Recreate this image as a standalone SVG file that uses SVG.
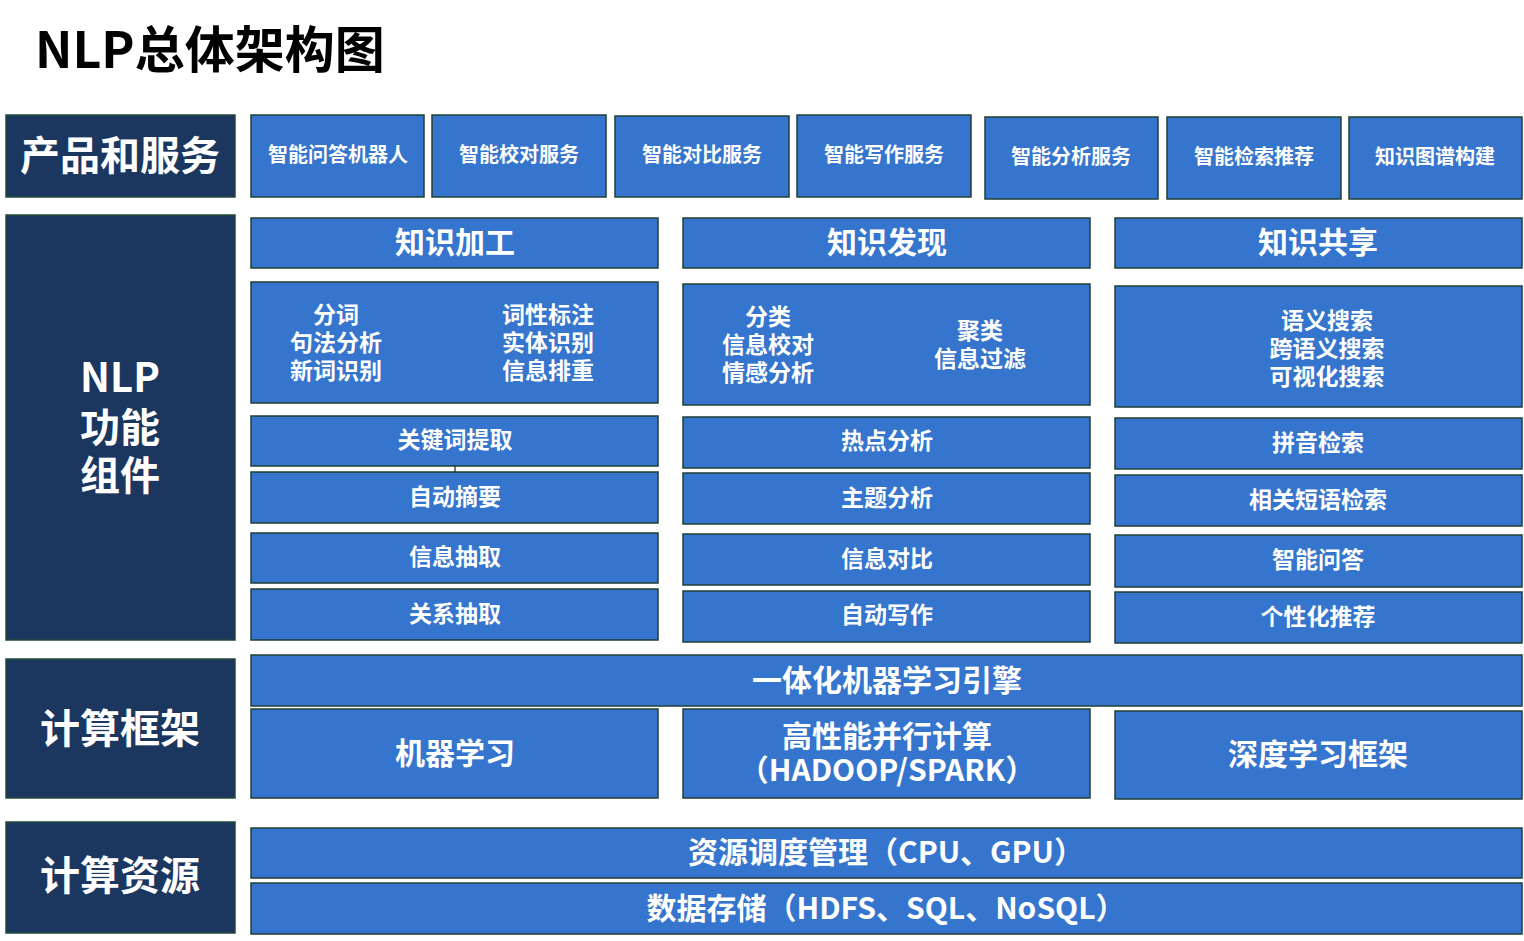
<svg xmlns="http://www.w3.org/2000/svg" width="1524" height="941" viewBox="0 0 1524 941">
<style>
.bg{fill:#ffffff}
.dark{fill:#1b375f;stroke:#234a3a;stroke-width:1.5}
.blue{fill:#3575cd;stroke:#1f3f33;stroke-width:1.5}
text{font-family:"Noto Sans CJK SC","Microsoft YaHei",sans-serif;font-weight:bold;fill:#ffffff;text-anchor:middle;dominant-baseline:central}
.title{fill:#000000;text-anchor:start;font-size:50px}
.l40{font-size:40px}
.s19{font-size:20px}
.s29{font-size:30px}
.s22{font-size:23px}
.s30{font-size:30px}
.conn{stroke:#222222;stroke-width:1.2;fill:none}
</style>
<rect class="bg" x="0" y="0" width="1524" height="941"/>
<text class="title" x="35" y="46">NLP总体架构图</text>

<g id="row-products">
<g id="label-products"><rect class="dark" x="6" y="115" width="229" height="82"/><text class="l40" x="120" y="153">产品和服务</text></g>
<g id="p1"><rect class="blue" x="251" y="115" width="173" height="82"/><text class="s19" x="338" y="153">智能问答机器人</text></g>
<g id="p2"><rect class="blue" x="432" y="115" width="174" height="82"/><text class="s19" x="519" y="153">智能校对服务</text></g>
<g id="p3"><rect class="blue" x="615" y="116" width="174" height="81"/><text class="s19" x="702" y="153">智能对比服务</text></g>
<g id="p4"><rect class="blue" x="797" y="115" width="174" height="82"/><text class="s19" x="884" y="153">智能写作服务</text></g>
<g id="p5"><rect class="blue" x="985" y="117" width="173" height="82"/><text class="s19" x="1071" y="155">智能分析服务</text></g>
<g id="p6"><rect class="blue" x="1167" y="117" width="174" height="82"/><text class="s19" x="1254" y="155">智能检索推荐</text></g>
<g id="p7"><rect class="blue" x="1349" y="117" width="173" height="82"/><text class="s19" x="1435" y="155">知识图谱构建</text></g>
</g>

<g id="row-nlp">
<g id="label-nlp"><rect class="dark" x="6" y="215" width="229" height="425"/>
<text class="l40" x="120" y="375"><tspan x="120" y="375">NLP</tspan><tspan x="120" y="425">功能</tspan><tspan x="120" y="473">组件</tspan></text></g>

<g id="h1"><rect class="blue" x="251" y="218" width="407" height="50"/><text class="s29" x="455" y="240">知识加工</text></g>
<g id="h2"><rect class="blue" x="683" y="218" width="407" height="50"/><text class="s29" x="887" y="240">知识发现</text></g>
<g id="h3"><rect class="blue" x="1115" y="218" width="407" height="50"/><text class="s29" x="1318" y="240">知识共享</text></g>

<g id="b1"><rect class="blue" x="251" y="282" width="407" height="121"/>
<text class="s22" x="336" y="313"><tspan x="336" y="313">分词</tspan><tspan x="336" y="341">句法分析</tspan><tspan x="336" y="369">新词识别</tspan></text>
<text class="s22" x="548" y="313"><tspan x="548" y="313">词性标注</tspan><tspan x="548" y="341">实体识别</tspan><tspan x="548" y="369">信息排重</tspan></text></g>
<g id="b2"><rect class="blue" x="683" y="284" width="407" height="121"/>
<text class="s22" x="768" y="315"><tspan x="768" y="315">分类</tspan><tspan x="768" y="343">信息校对</tspan><tspan x="768" y="371">情感分析</tspan></text>
<text class="s22" x="980" y="329"><tspan x="980" y="329">聚类</tspan><tspan x="980" y="357">信息过滤</tspan></text></g>
<g id="b3"><rect class="blue" x="1115" y="286" width="407" height="121"/>
<text class="s22" x="1327" y="319"><tspan x="1327" y="319">语义搜索</tspan><tspan x="1327" y="347">跨语义搜索</tspan><tspan x="1327" y="375">可视化搜索</tspan></text></g>

<g id="c1a"><rect class="blue" x="251" y="416" width="407" height="50"/><text class="s22" x="455" y="438">关键词提取</text></g>
<g id="c1b"><rect class="blue" x="251" y="472" width="407" height="51"/><text class="s22" x="455" y="495">自动摘要</text></g>
<g id="c1c"><rect class="blue" x="251" y="533" width="407" height="50"/><text class="s22" x="455" y="555">信息抽取</text></g>
<g id="c1d"><rect class="blue" x="251" y="589" width="407" height="51"/><text class="s22" x="455" y="612">关系抽取</text></g>

<g id="c2a"><rect class="blue" x="683" y="417" width="407" height="51"/><text class="s22" x="887" y="439">热点分析</text></g>
<g id="c2b"><rect class="blue" x="683" y="473" width="407" height="51"/><text class="s22" x="887" y="496">主题分析</text></g>
<g id="c2c"><rect class="blue" x="683" y="534" width="407" height="51"/><text class="s22" x="887" y="557">信息对比</text></g>
<g id="c2d"><rect class="blue" x="683" y="591" width="407" height="51"/><text class="s22" x="887" y="613">自动写作</text></g>

<g id="c3a"><rect class="blue" x="1115" y="418" width="407" height="51"/><text class="s22" x="1318" y="441">拼音检索</text></g>
<g id="c3b"><rect class="blue" x="1115" y="475" width="407" height="51"/><text class="s22" x="1318" y="498">相关短语检索</text></g>
<g id="c3c"><rect class="blue" x="1115" y="535" width="407" height="52"/><text class="s22" x="1318" y="558">智能问答</text></g>
<g id="c3d"><rect class="blue" x="1115" y="592" width="407" height="51"/><text class="s22" x="1318" y="615">个性化推荐</text></g>
</g>

<g id="connectors"><line class="conn" x1="455" y1="466" x2="455" y2="472"/></g>

<g id="row-framework">
<g id="label-framework"><rect class="dark" x="6" y="659" width="229" height="139"/><text class="l40" x="120" y="726">计算框架</text></g>
<g id="f0"><rect class="blue" x="251" y="655" width="1271" height="51"/><text class="s30" x="887" y="678">一体化机器学习引擎</text></g>
<g id="f1"><rect class="blue" x="251" y="709" width="407" height="89"/><text class="s29" x="455" y="751">机器学习</text></g>
<g id="f2"><rect class="blue" x="683" y="709" width="407" height="89"/><text class="s29" x="887" y="734"><tspan x="887" y="734">高性能并行计算</tspan><tspan x="887" y="768">（HADOOP/SPARK）</tspan></text></g>
<g id="f3"><rect class="blue" x="1115" y="711" width="407" height="88"/><text class="s29" x="1318" y="752">深度学习框架</text></g>
</g>

<g id="row-resources">
<g id="label-resources"><rect class="dark" x="6" y="822" width="229" height="111"/><text class="l40" x="120" y="873">计算资源</text></g>
<g id="r1"><rect class="blue" x="251" y="828" width="1271" height="50"/><text class="s30" x="886" y="850">资源调度管理（CPU、GPU）</text></g>
<g id="r2"><rect class="blue" x="251" y="883" width="1271" height="51"/><text class="s30" x="886" y="906">数据存储（HDFS、SQL、NoSQL）</text></g>
</g>
</svg>
